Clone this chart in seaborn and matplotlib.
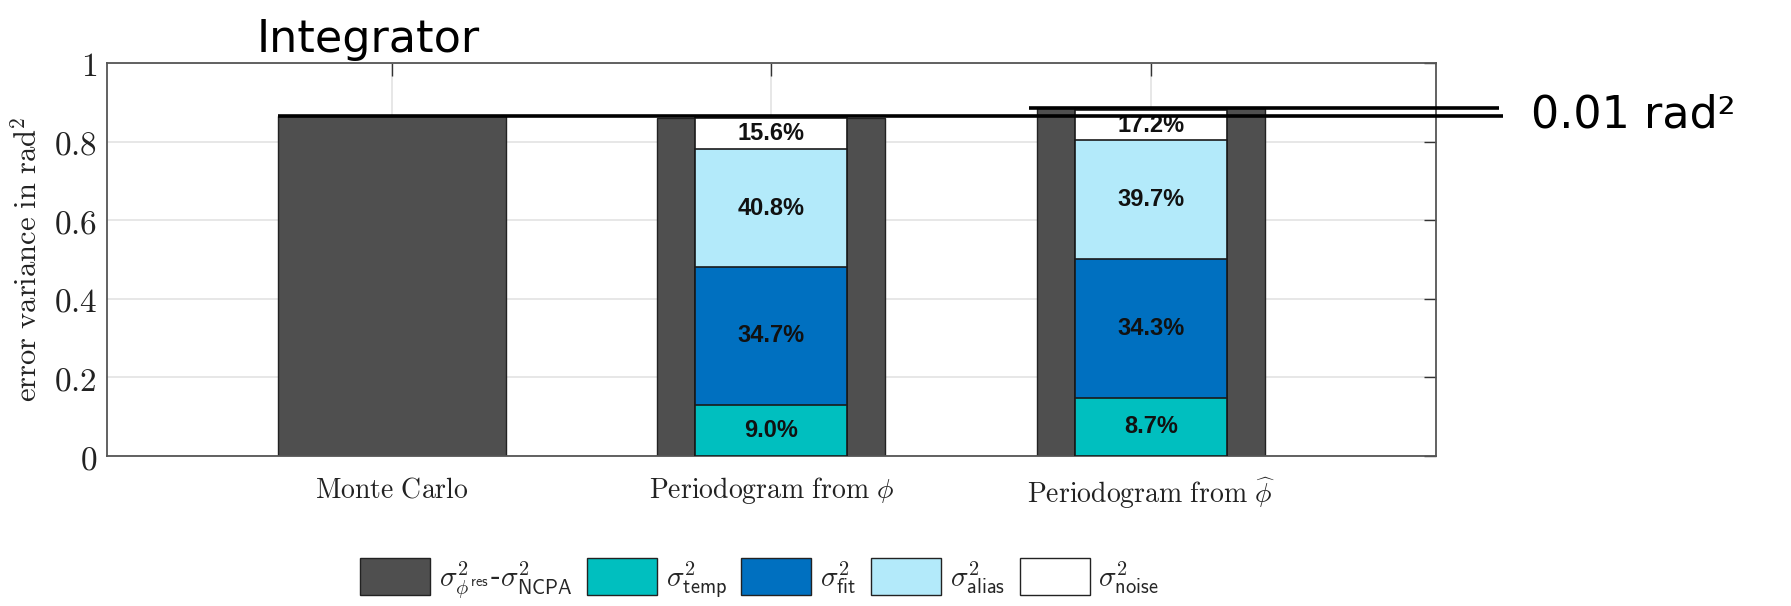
import matplotlib
matplotlib.use("Agg")
import matplotlib.pyplot as plt
from matplotlib.patches import Patch
from matplotlib.ticker import FuncFormatter, FixedLocator
import numpy as np
import pandas as pd
import seaborn as sns

# ---- data -------------------------------------------------------------
categories = ["Monte Carlo", "Periodogram from phi", "Periodogram from phi_hat"]
tick_labels = [r"$\mathrm{Monte\ Carlo}$",
               r"$\mathrm{Periodogram\ from\ }\phi$",
               r"$\mathrm{Periodogram\ from\ }\widehat{\phi}$"]

# total residual error variance (rad^2), dark bars
total_var = [0.865, 0.860, 0.885]

# error-budget components (rad^2) for the two periodogram estimates
budget_cats = categories[1:]
temp_var = [0.130, 0.148]
fit_var = [0.351, 0.353]
alias_var = [0.300, 0.303]
noise_var = [0.079, 0.076]

# percentage annotations per component
temp_pct = ["9.0%", "8.7%"]
fit_pct = ["34.7%", "34.3%"]
alias_pct = ["40.8%", "39.7%"]
noise_pct = ["15.6%", "17.2%"]

legend_labels = [r"$\sigma^2_{\phi^{\mathsf{res}}}$-$\sigma^2_{\mathsf{NCPA}}$",
                 r"$\sigma^2_{\mathsf{temp}}$",
                 r"$\sigma^2_{\mathsf{fit}}$",
                 r"$\sigma^2_{\mathsf{alias}}$",
                 r"$\sigma^2_{\mathsf{noise}}$"]

# ---- style ------------------------------------------------------------
sns.set_style("white")
plt.rcParams["font.family"] = ["DejaVu Sans"]
plt.rcParams["mathtext.fontset"] = "cm"

c_dark = "#4f4f4f"
c_temp = "#00bfbf"
c_fit = "#0070c0"
c_alias = "#b3eafa"
c_noise = "#ffffff"

fig = plt.figure(figsize=(17.91, 6.06), dpi=100)
ax = fig.add_axes([0.0597, 0.2475, 0.742, 0.6485])

# dark total bars
df_total = pd.DataFrame({"method": categories, "value": total_var})
sns.barplot(data=df_total, x="method", y="value", order=categories,
            color=c_dark, saturation=1, width=0.6, edgecolor="#222222",
            linewidth=1.0, ax=ax, zorder=2)

# stacked components: draw cumulative heights from the top layer down
layers = [temp_var, fit_var, alias_var, noise_var]
colors = [c_temp, c_fit, c_alias, c_noise]
cum = np.cumsum(np.array(layers), axis=0)
for k in range(len(layers) - 1, -1, -1):
    df_k = pd.DataFrame({"method": budget_cats, "value": cum[k]})
    sns.barplot(data=df_k, x="method", y="value", order=categories,
                color=colors[k], saturation=1, width=0.4,
                edgecolor="#1a1a1a", linewidth=1.2, ax=ax, zorder=3)

# percentage labels at segment centres
pct_layers = [temp_pct, fit_pct, alias_pct, noise_pct]
for k, pcts in enumerate(pct_layers):
    lower = cum[k - 1] if k > 0 else np.zeros(len(budget_cats))
    for j, cat in enumerate(budget_cats):
        xpos = categories.index(cat)
        ymid = (lower[j] + cum[k][j]) / 2
        ax.text(xpos, ymid, pcts[j], ha="center", va="center",
                fontsize=17, fontweight="bold", color="#111111",
                family=["Liberation Sans", "DejaVu Sans"], zorder=5)

# reference lines at the Monte Carlo and phi-hat totals
ax.plot([-0.3, 2.926], [total_var[0], total_var[0]], color="black",
        lw=2.6, clip_on=False, zorder=6, solid_capstyle="butt")
ax.plot([1.679, 2.916], [total_var[2], total_var[2]], color="black",
        lw=2.6, clip_on=False, zorder=6, solid_capstyle="butt")

# axes formatting
ax.set_xlim(-0.75, 2.75)
ax.set_ylim(0, 1)
ax.set_xticks(range(len(categories)))
ax.set_xticklabels(tick_labels, fontsize=20)
ax.yaxis.set_major_locator(FixedLocator([0, 0.2, 0.4, 0.6, 0.8, 1.0]))
ax.yaxis.set_major_formatter(FuncFormatter(lambda v, p: f"${v:g}$"))
ax.tick_params(direction="in", length=9, width=1.0, color="#333333",
               top=True, right=True, labelcolor="#222222")
ax.tick_params(axis="y", labelsize=24, pad=7)
ax.tick_params(axis="x", pad=14)
ax.set_xlabel("")
ax.set_ylabel(r"$\mathrm{error\ variance\ in\ rad}^2$", fontsize=22,
              color="#222222", labelpad=8)
ax.grid(True, color="#e3e3e3", lw=1.2, zorder=0)
ax.set_axisbelow(True)
for s in ax.spines.values():
    s.set_color("#555555")
    s.set_linewidth(1.3)
    s.set_visible(True)

# title and annotation
fig.text(0.2055, 0.914, "Integrator", fontsize=32, ha="center",
         va="baseline", color="black", family=["DejaVu Sans"])
fig.text(0.855, 0.81, "0.01 rad²", fontsize=32, ha="left",
         va="center", color="black", family=["DejaVu Sans"])

# legend
handles = [Patch(facecolor=c, edgecolor="#222222", linewidth=1.0)
           for c in [c_dark, c_temp, c_fit, c_alias, c_noise]]
fig.legend(handles, legend_labels, loc="center",
           bbox_to_anchor=(0.424, 0.045), ncol=5, frameon=False,
           fontsize=21, handlelength=2.4, handleheight=1.6,
           handletextpad=0.3, columnspacing=0.5)

fig.savefig("out.png", dpi=100)
